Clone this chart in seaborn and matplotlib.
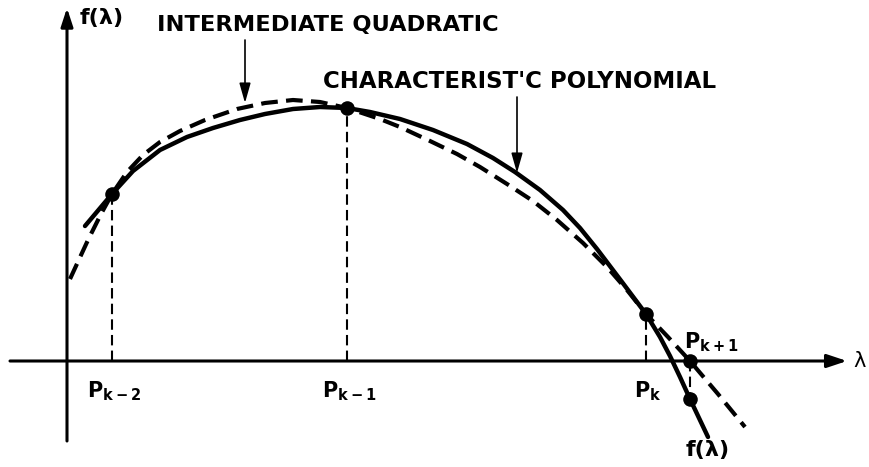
import matplotlib
matplotlib.use("Agg")
import matplotlib.pyplot as plt
import pandas as pd
import seaborn as sns

# Muller's method: the characteristic polynomial f(λ) and the intermediate
# quadratic through three successive iterates.

# characteristic polynomial, sampled along λ
poly_lam = [0.18, 0.45, 0.66, 0.93, 1.20, 1.46, 1.73, 1.98, 2.26, 2.53,
            2.80, 3.03, 3.33, 3.66, 4.00, 4.26, 4.48, 4.73, 4.96, 5.13,
            5.30, 5.55, 5.79, 5.93, 6.03, 6.13, 6.23, 6.41]
poly_f = [1.35, 1.67, 1.90, 2.11, 2.24, 2.33, 2.41, 2.47, 2.52, 2.54,
          2.53, 2.49, 2.42, 2.31, 2.17, 2.03, 1.89, 1.71, 1.51, 1.33,
          1.12, 0.79, 0.47, 0.24, 0.05, -0.16, -0.38, -0.76]

# intermediate quadratic, sampled along λ
quad_lam = [0.03, 0.21, 0.34, 0.45, 0.60, 0.76, 0.93, 1.13, 1.38, 1.70,
            1.98, 2.26, 2.53, 2.80, 3.13, 3.33, 3.63, 3.90, 4.13, 4.40,
            4.66, 4.90, 5.16, 5.40, 5.60, 5.79, 6.01, 6.23, 6.51, 6.78]
quad_f = [0.82, 1.21, 1.47, 1.67, 1.89, 2.06, 2.19, 2.30, 2.41, 2.52,
          2.58, 2.61, 2.59, 2.53, 2.42, 2.34, 2.20, 2.07, 1.94, 1.77,
          1.60, 1.41, 1.18, 0.94, 0.71, 0.47, 0.24, 0.00, -0.33, -0.66]

# iterates p_{k-2}, p_{k-1}, p_k and their polynomial values
iter_lam = [0.45, 2.80, 5.79]
iter_f = [1.67, 2.53, 0.47]
iter_labels = [r"$\mathbf{P}_{\mathbf{k-2}}$", r"$\mathbf{P}_{\mathbf{k-1}}$",
               r"$\mathbf{P}_{\mathbf{k}}$"]

# new iterate p_{k+1} (root of the quadratic) and f(p_{k+1})
next_lam = 6.23
next_f = -0.38

sns.set_theme(style="white")
plt.rcParams["font.family"] = ["DejaVu Sans"]
plt.rcParams["mathtext.fontset"] = "dejavusans"

fig = plt.figure(figsize=(8.7, 4.67), dpi=100)
ax = fig.add_axes([0, 0, 1, 1])
ax.set_xlim(-0.67, 8.03)
ax.set_ylim(-1.06, 3.61)
ax.axis("off")

ink = "black"

# coordinate axes with arrowheads
ax.annotate("", xy=(7.80, 0), xytext=(-0.57, 0),
            arrowprops=dict(arrowstyle="-|>,head_length=0.6,head_width=0.2",
                            mutation_scale=20, lw=2.2, color=ink,
                            shrinkA=0, shrinkB=0))
ax.annotate("", xy=(0, 3.53), xytext=(0, -0.80),
            arrowprops=dict(arrowstyle="-|>,head_length=0.55,head_width=0.18",
                            mutation_scale=20, lw=2.2, color=ink,
                            shrinkA=0, shrinkB=0))

# the two curves
poly_df = pd.DataFrame({"lam": poly_lam, "f": poly_f})
quad_df = pd.DataFrame({"lam": quad_lam, "f": quad_f})
sns.lineplot(data=poly_df, x="lam", y="f", sort=False, ax=ax, color=ink,
             lw=3.2, solid_capstyle="round", solid_joinstyle="round")
sns.lineplot(data=quad_df, x="lam", y="f", sort=False, ax=ax, color=ink,
             lw=3.0, dashes=False, linestyle=(0, (4, 2)),
             dash_capstyle="butt", dash_joinstyle="round")

# dashed ordinates from the axis up to each iterate
for lx, fy in zip(iter_lam, iter_f):
    ax.plot([lx, lx], [0, fy], color=ink, lw=1.5, linestyle=(0, (5, 2.5)))
ax.plot([next_lam, next_lam], [0, next_f], color=ink, lw=1.5,
        linestyle=(0, (5, 2.5)))

# points on the curves
pts = pd.DataFrame({"lam": iter_lam + [next_lam, next_lam],
                    "f": iter_f + [0.0, next_f]})
sns.scatterplot(data=pts, x="lam", y="f", ax=ax, color=ink, s=110,
                edgecolor=ink, linewidth=0, zorder=5)

# iterate labels under the axis
for lx, lab in zip(iter_lam, iter_labels):
    ax.text(lx + 0.02, -0.30, lab, ha="center", va="center", fontsize=15,
            color=ink)
ax.text(next_lam + 0.21, 0.19, r"$\mathbf{P}_{\mathbf{k+1}}$", ha="center",
        va="center", fontsize=15, color=ink)

# axis labels
ax.text(0.13, 3.43, "f(λ)", ha="left", va="center", fontsize=16,
        fontweight="bold", color=ink)
ax.text(6.41, -0.89, "f(λ)", ha="center", va="center", fontsize=16,
        fontweight="bold", color=ink)
ax.text(7.93, 0.0, "λ", ha="center", va="center", fontsize=15, color=ink)

# curve captions with pointer arrows
ax.text(0.90, 3.36, "INTERMEDIATE QUADRATIC", ha="left", va="center",
        fontsize=16.2, fontweight="bold", color=ink)
ax.annotate("", xy=(1.78, 2.58), xytext=(1.78, 3.21),
            arrowprops=dict(arrowstyle="-|>,head_length=0.6,head_width=0.17",
                            mutation_scale=20, lw=1.2, color=ink,
                            shrinkA=0, shrinkB=0))
ax.text(2.56, 2.79, "CHARACTERIST'C POLYNOMIAL", ha="left", va="center",
        fontsize=16.5, fontweight="bold", color=ink)
ax.annotate("", xy=(4.50, 1.88), xytext=(4.50, 2.64),
            arrowprops=dict(arrowstyle="-|>,head_length=0.6,head_width=0.17",
                            mutation_scale=20, lw=1.2, color=ink,
                            shrinkA=0, shrinkB=0))

fig.savefig("out.png", dpi=100)
